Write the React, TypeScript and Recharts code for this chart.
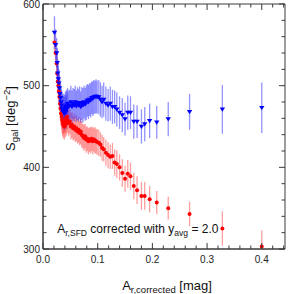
import React from 'react';
import { ScatterChart, Scatter, XAxis, YAxis, ErrorBar, ReferenceDot } from 'recharts';

const FONT = '"Liberation Sans", Arial, Helvetica, sans-serif';

const xs = [
  0.021, 0.023, 0.025, 0.026, 0.027, 0.028, 0.029, 0.030, 0.031, 0.032,
  0.033, 0.034, 0.035, 0.036, 0.037, 0.038, 0.039, 0.040, 0.041, 0.042,
  0.043, 0.044, 0.045, 0.047, 0.049, 0.051, 0.053, 0.055, 0.057, 0.059,
  0.061, 0.063, 0.065, 0.067, 0.069, 0.071, 0.073, 0.075, 0.077, 0.079,
  0.081, 0.083, 0.085, 0.087, 0.089, 0.091, 0.093, 0.095, 0.097, 0.099,
  0.102, 0.105, 0.108, 0.111, 0.115, 0.119, 0.123, 0.127, 0.131, 0.135,
  0.140, 0.145, 0.150, 0.155, 0.160, 0.166, 0.172,
  0.180, 0.186, 0.195, 0.208, 0.229, 0.268, 0.328, 0.400,
];

const blueS = [
  565, 550, 540, 528, 515, 508, 503, 497, 490, 485,
  480, 476, 472, 470, 468, 472, 466, 470, 474, 468,
  476, 472, 478, 474, 476, 480, 474, 478, 476, 480,
  475, 478, 476, 479, 474, 478, 476, 480, 477, 479,
  482, 480, 483, 482, 485, 484, 486, 486, 487, 486,
  486, 483, 480, 483, 478, 476, 478, 474, 474, 471,
  467, 464, 459, 467, 467, 456, 456,
  450, 453, 457, 455, 459, 468, 471, 473,
];

const blueErr = [
  20, 19, 18, 18, 17, 17, 17, 17, 18, 18,
  18, 19, 19, 19, 19, 18, 20, 19, 19, 20,
  19, 20, 19, 20, 19, 20, 20, 19, 20, 20,
  19, 20, 20, 20, 19, 20, 21, 20, 20, 21,
  20, 21, 20, 21, 20, 21, 21, 20, 21, 20,
  21, 21, 20, 21, 21, 20, 21, 21, 20, 21,
  20, 21, 20, 21, 20, 21, 20,
  21, 21, 21, 20, 21, 22, 30, 31,
];

const redS = [
  553, 540, 527, 515, 505, 500, 493, 486, 478, 472,
  466, 462, 458, 455, 452, 456, 450, 458, 452, 460,
  455, 462, 458, 454, 456, 450, 452, 448, 450, 446,
  448, 444, 446, 442, 444, 440, 438, 436, 438, 434,
  435, 432, 434, 433, 435, 432, 434, 433, 432, 431,
  430, 428, 424, 422, 418, 415, 413, 414, 406, 404,
  400, 393, 386, 392, 389, 377, 372,
  365, 365, 361, 357, 350, 343, 325, 303,
];

const redErr = [
  12, 12, 12, 12, 13, 13, 13, 14, 14, 15,
  15, 15, 16, 16, 16, 15, 16, 16, 15, 16,
  16, 15, 16, 16, 15, 16, 16, 15, 16, 15,
  16, 15, 16, 15, 16, 16, 15, 16, 15, 16,
  15, 16, 15, 16, 15, 16, 15, 16, 15, 16,
  16, 15, 16, 15, 16, 16, 15, 16, 16, 17,
  16, 17, 16, 17, 17, 16, 17,
  17, 17, 16, 14, 14, 15, 21, 20,
];

const xTicks = [
  0, 0.02, 0.04, 0.06, 0.08, 0.1, 0.12, 0.14, 0.16, 0.18, 0.2, 0.22,
  0.24, 0.26, 0.28, 0.3, 0.32, 0.34, 0.36, 0.38, 0.4, 0.42, 0.44,
];
const yTicks = [
  300, 320, 340, 360, 380, 400, 420, 440, 460, 480, 500, 520, 540, 560, 580, 600,
];
const xLabelTicks = [0, 0.1, 0.2, 0.3, 0.4];
const yLabelTicks = [300, 400, 500, 600];

const Y_MIN = 300;
const Y_MAX = 600;
const X_MAX = 0.4425;

// asymmetric error [lower, upper], kept inside the plotted range
const toRow = (x: number, y: number, e: number) => ({
  x,
  y,
  errRange: [Math.min(e, y - Y_MIN), Math.min(e, Y_MAX - y)],
});
const blueData = xs.map((x, i) => toRow(x, blueS[i], blueErr[i]));
const redData = xs.map((x, i) => toRow(x, redS[i], redErr[i]));

const AXIS = '#3a3a3a';
const MINOR = 3.5;
const MAJOR = 6;
const isMajorX = (v: number) => xLabelTicks.some((t) => Math.abs(t - v) < 1e-9);
const isMajorY = (v: number) => yLabelTicks.some((t) => Math.abs(t - v) < 1e-9);

// tick marks on all four sides, placed through the chart's own scales
const tickMarks = [
  ...xTicks.map((v) => ({ x: v, y: Y_MIN, side: 'bottom', major: isMajorX(v) })),
  ...xTicks.map((v) => ({ x: v, y: Y_MAX, side: 'top', major: isMajorX(v) })),
  ...yTicks.map((v) => ({ x: 0, y: v, side: 'left', major: isMajorY(v) })),
  ...yTicks.map((v) => ({ x: X_MAX, y: v, side: 'right', major: isMajorY(v) })),
];

// frame corners (closed outline of the plot box)
const frame = [
  { x: 0, y: Y_MIN },
  { x: 0, y: Y_MAX },
  { x: X_MAX, y: Y_MAX },
  { x: X_MAX, y: Y_MIN },
  { x: 0, y: Y_MIN },
];

const TickMark = (props: any) => {
  const { cx, cy } = props;
  if (cx == null || cy == null) return null;
  const p = props.payload || props;
  const len = p.major ? MAJOR : MINOR;
  let r: any;
  if (p.side === 'bottom') r = { x: cx - 0.5, y: cy - len, width: 1, height: len };
  else if (p.side === 'top') r = { x: cx - 0.5, y: cy, width: 1, height: len };
  else if (p.side === 'left') r = { x: cx, y: cy - 0.5, width: len, height: 1 };
  else r = { x: cx - len, y: cy - 0.5, width: len, height: 1 };
  return <rect {...r} fill={AXIS} />;
};

const XLabelTick = (props: any) => {
  const { x, y, payload } = props;
  const v = payload.value as number;
  if (!isMajorX(v)) return <g />;
  return (
    <text x={x} y={y + 14} textAnchor="middle" fontSize={10} fontFamily={FONT} fill="#222">
      {v.toFixed(1)}
    </text>
  );
};

const YLabelTick = (props: any) => {
  const { x, y, payload } = props;
  const v = payload.value as number;
  if (!isMajorY(v)) return <g />;
  return (
    <text x={x - 3} y={y + 3.6} textAnchor="end" fontSize={10} fontFamily={FONT} fill="#222">
      {String(v)}
    </text>
  );
};

const TriangleDown = (props: any) => {
  const { cx, cy } = props;
  if (cx == null || cy == null) return null;
  return (
    <path
      d={`M${cx - 2.7},${cy - 1.8} L${cx + 2.7},${cy - 1.8} L${cx},${cy + 2.4} Z`}
      fill="#0000ff"
    />
  );
};

const RedDot = (props: any) => {
  const { cx, cy } = props;
  if (cx == null || cy == null) return null;
  return <circle cx={cx} cy={cy} r={2} fill="#ff0000" />;
};

const Nothing = () => <g />;

const XTitle = (props: any) => {
  const vb = props.viewBox || {};
  const cx = vb.x + vb.width / 2 + 3;
  return (
    <text x={cx} y={290} textAnchor="middle" fontFamily={FONT} fill="#111" fontSize={13}>
      <tspan>A</tspan>
      <tspan fontSize={9.5} dy={3}>r,corrected</tspan>
      <tspan dy={-3}> [mag]</tspan>
    </text>
  );
};

const YTitle = (props: any) => {
  const vb = props.viewBox || {};
  const cy = vb.y + vb.height / 2 - 8;
  const bx = 15;
  return (
    <text
      x={bx}
      y={cy}
      transform={`rotate(-90 ${bx} ${cy})`}
      textAnchor="middle"
      fontFamily={FONT}
      fill="#111"
      fontSize={13}
    >
      <tspan>S</tspan>
      <tspan fontSize={9.5} dy={3}>gal</tspan>
      <tspan dy={-3}> [deg</tspan>
      <tspan fontSize={9.5} dy={-5}>−2</tspan>
      <tspan dy={5}>]</tspan>
    </text>
  );
};

const Annotation = (props: any) => {
  const vb = props.viewBox || {};
  return (
    <text x={vb.x} y={vb.y} textAnchor="start" fontFamily={FONT} fill="#111" fontSize={12}>
      <tspan>A</tspan>
      <tspan fontSize={8.5} dy={3}>r,SFD</tspan>
      <tspan dy={-3}> corrected with y</tspan>
      <tspan fontSize={8.5} dy={3}>avg</tspan>
      <tspan dy={-3}> = 2.0</tspan>
    </text>
  );
};

export default function App() {
  return (
    <div style={{ position: 'absolute', left: 0, top: 0, width: 291, height: 294, background: '#fff' }}>
      <ScatterChart width={291} height={294} margin={{ top: 4, right: 6, bottom: 0, left: 0 }}>
        <XAxis
          type="number"
          dataKey="x"
          domain={[0, X_MAX]}
          ticks={xTicks}
          interval={0}
          orientation="bottom"
          height={45}
          tickSize={0}
          tickMargin={0}
          tickLine={false}
          axisLine={{ stroke: AXIS }}
          tick={<XLabelTick />}
          label={<XTitle />}
        />
        <YAxis
          type="number"
          dataKey="y"
          domain={[Y_MIN, Y_MAX]}
          ticks={yTicks}
          interval={0}
          orientation="left"
          width={43}
          tickSize={0}
          tickMargin={0}
          tickLine={false}
          axisLine={{ stroke: AXIS }}
          tick={<YLabelTick />}
          label={<YTitle />}
        />
        <Scatter data={redData} isAnimationActive={false} shape={<RedDot />}>
          <ErrorBar dataKey="errRange" direction="y" width={0} stroke="rgba(255,40,40,0.45)" strokeWidth={1.3} />
        </Scatter>
        <Scatter data={blueData} isAnimationActive={false} shape={<TriangleDown />}>
          <ErrorBar dataKey="errRange" direction="y" width={0} stroke="rgba(40,40,255,0.5)" strokeWidth={1.3} />
        </Scatter>
        <Scatter
          data={frame}
          isAnimationActive={false}
          fill={AXIS}
          shape={<Nothing />}
          line={{ stroke: AXIS, strokeWidth: 1 }}
          lineType="joint"
        />
        <Scatter data={tickMarks} isAnimationActive={false} fill={AXIS} shape={<TickMark />} />
        <ReferenceDot x={0.026} y={320} r={0} fill="none" stroke="none" label={<Annotation />} />
      </ScatterChart>
    </div>
  );
}
